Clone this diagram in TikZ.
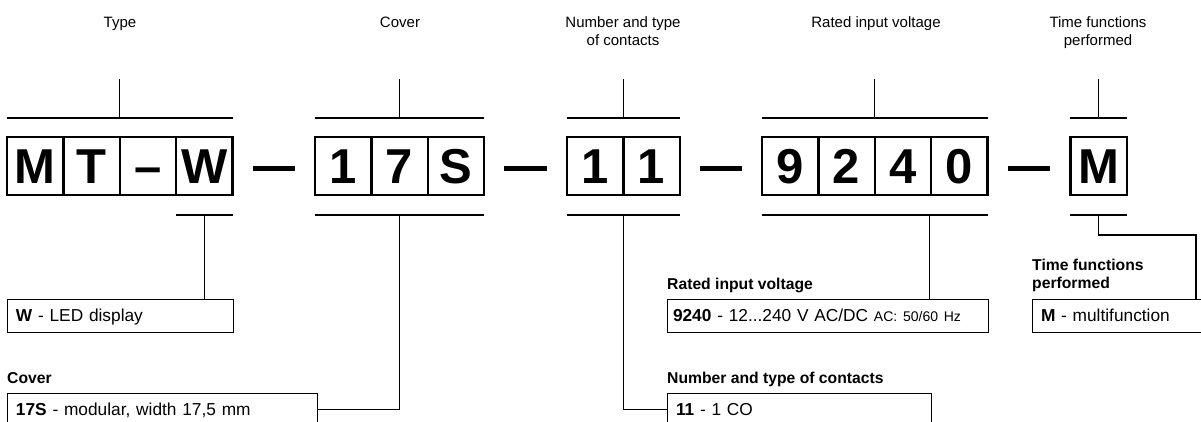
\documentclass[tikz,border=0pt]{standalone}
\usepackage{fontspec}
\setmainfont{Liberation Sans}
\usetikzlibrary{positioning}
\frenchspacing

\begin{document}
\begin{tikzpicture}[x=1pt, y=-1pt,
  cell/.style={draw, line width=2.4pt, minimum width=56.4pt, minimum height=58pt,
    inner sep=0pt, outer sep=0pt, text height=35pt, text depth=0pt,
    font=\fontsize{49}{49}\selectfont\bfseries},
  brace/.style={line width=1.3pt},
  sep/.style={line width=5.5pt},
  wire/.style={line width=1.3pt},
  title/.style={anchor=north, align=center, inner sep=0pt, font=\fontsize{15}{18}\selectfont},
  head/.style={anchor=base west, align=left, inner sep=0pt, font=\fontsize{15.7}{18}\selectfont\bfseries},
  desc/.style={draw, line width=1pt, anchor=north west, minimum height=33pt, inner xsep=9pt,
    inner ysep=0pt, outer sep=0pt, text height=12.4pt, text depth=0pt, align=left,
    font=\fontsize{17.3}{20}\selectfont}]

\useasboundingbox (0,0) rectangle (1201,422);

% code cells
\node [cell] (t1) at (35.2,166) {M};
\node [cell, right=0pt of t1] (t2) {T};
\node [cell, right=0pt of t2] (t3) {–};
\node [cell, right=0pt of t3] (t4) {W};

\node [cell] (c1) at (343.2,166) {1};
\node [cell, right=0pt of c1] (c2) {7};
\node [cell, right=0pt of c2] (c3) {S};

\node [cell] (k1) at (595.2,166) {1};
\node [cell, right=0pt of k1] (k2) {1};

\node [cell] (v1) at (790.2,166) {9};
\node [cell, right=0pt of v1] (v2) {2};
\node [cell, right=0pt of v2] (v3) {4};
\node [cell, right=0pt of v3] (v4) {0};

\node [cell] (f1) at (1098.5,166) {M};

% dashes between groups
\draw [sep] ([xshift=20pt,yshift=-2.5pt]t4.east) -- ([xshift=-20pt,yshift=-2.5pt]c1.west);
\draw [sep] ([xshift=20pt,yshift=-2.5pt]c3.east) -- ([xshift=-20pt,yshift=-2.5pt]k1.west);
\draw [sep] ([xshift=20pt,yshift=-2.5pt]k2.east) -- ([xshift=-20pt,yshift=-2.5pt]v1.west);
\draw [sep] ([xshift=20pt,yshift=-2.5pt]v4.east) -- ([xshift=-20pt,yshift=-2.5pt]f1.west);

% top brackets
\draw [brace] ([yshift=19pt]t1.north west) -- ([yshift=19pt]t4.north east);
\draw [brace] ([yshift=19pt]t2.north east) -- ++(0,-39);
\draw [brace] ([yshift=19pt]c1.north west) -- ([yshift=19pt]c3.north east);
\draw [brace] ([yshift=19pt]c2.north) -- ++(0,-39);
\draw [brace] ([yshift=19pt]k1.north west) -- ([yshift=19pt]k2.north east);
\draw [brace] ([yshift=19pt]k1.north east) -- ++(0,-39);
\draw [brace] ([yshift=19pt]v1.north west) -- ([yshift=19pt]v4.north east);
\draw [brace] ([yshift=19pt]v2.north east) -- ++(0,-39);
\draw [brace] ([yshift=19pt]f1.north west) -- ([yshift=19pt]f1.north east);
\draw [brace] ([yshift=19pt]f1.north) -- ++(0,-39);

\node [title] at (120,16.5) {Type};
\node [title] at (400,16.5) {Cover};
\node [title] at (623,16.5) {Number and type\\of contacts};
\node [title] at (876,16.5) {Rated input voltage};
\node [title] at (1098,16.5) {Time functions\\performed};

% bottom brackets
\draw [brace] ([yshift=-20pt]t4.south west) -- ([yshift=-20pt]t4.south east);
\draw [brace] ([yshift=-20pt]c1.south west) -- ([yshift=-20pt]c3.south east);
\draw [brace] ([yshift=-20pt]k1.south west) -- ([yshift=-20pt]k2.south east);
\draw [brace] ([yshift=-20pt]v1.south west) -- ([yshift=-20pt]v4.south east);
\draw [brace] ([yshift=-20pt]f1.south west) -- ([yshift=-20pt]f1.south east);

\coordinate (wb) at ([yshift=-20pt]t4.south);
\coordinate (cb) at ([yshift=-20pt]c2.south);
\coordinate (kb) at ([yshift=-20pt]k1.south east);
\coordinate (vb) at ([xshift=-2pt,yshift=-20pt]v4.south west);
\coordinate (fb) at ([yshift=-20pt]f1.south);
\coordinate (fbend) at (1196,235);

% descriptions
\node [desc, text width=208pt] (wdesc) at (7,299) {\textbf{W} - LED display};
\node [head] at (7,383.5) {Cover};
\node [desc, text width=292pt] (cdesc) at (7,393) {\textbf{17S} - modular, width 17,5 mm};
\node [head] at (667,289) {Rated input voltage};
\node [desc, inner xsep=6pt, text width=309pt] (vdesc) at (667,299)
  {\textbf{9240} - 12...240 V AC/DC {\fontsize{14}{16}\selectfont AC: 50/60 Hz}};
\node [head] at (667,383.5) {Number and type of contacts};
\node [desc, text width=246pt] (kdesc) at (667,393) {\textbf{11} - 1 CO};
\node [head, anchor=north west] at (1032,259) {Time functions\\performed};
\node [desc, text width=200pt] (fdesc) at (1032,299) {\textbf{M} - multifunction};

\draw [wire] (wb) -- (wb |- wdesc.north);
\draw [wire] (cb) |- (cdesc.east);
\draw [wire] (kb) |- (kdesc.west);
\draw [wire] (vb) -- (vb |- vdesc.north);
\draw [wire] (fb) |- (fbend) -- (fbend |- fdesc.north);
\end{tikzpicture}
\end{document}
